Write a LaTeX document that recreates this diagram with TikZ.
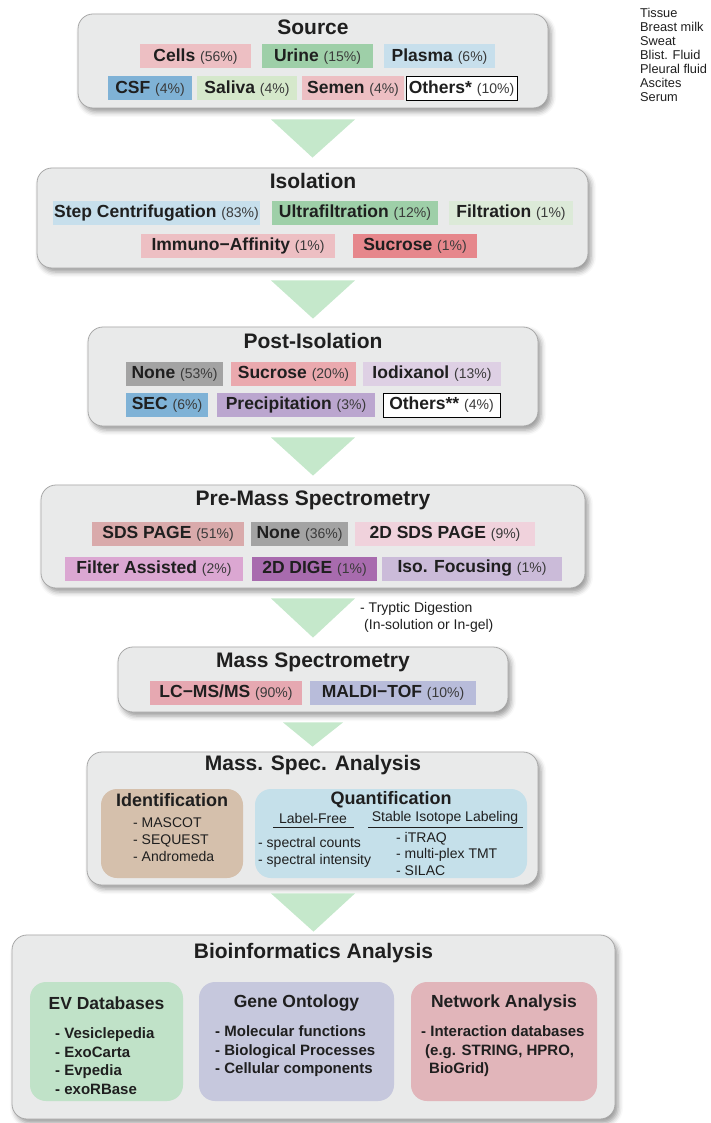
\documentclass[tikz,border=0pt]{standalone}
\usepackage{fontspec}
\setmainfont{Liberation Sans}
\usetikzlibrary{calc,shadows.blur}
\definecolor{boxfill}{HTML}{E9EAEA}
\definecolor{boxborder}{HTML}{A8A8A8}
\definecolor{arrowc}{HTML}{C5E8CB}
\definecolor{txt}{HTML}{1F1F1F}
\definecolor{pct}{HTML}{3A3A3A}
\definecolor{pinkA}{HTML}{EDBFC3}
\definecolor{greenM}{HTML}{9ECFA8}
\definecolor{blueL}{HTML}{C7DFEC}
\definecolor{blueM}{HTML}{7FB2D6}
\definecolor{greenL}{HTML}{D5E8CB}
\definecolor{greenVL}{HTML}{DCEAD8}
\definecolor{redM}{HTML}{E6878C}
\definecolor{grayN}{HTML}{A3A3A3}
\definecolor{pinkB}{HTML}{EAA9AE}
\definecolor{lavL}{HTML}{DED0E4}
\definecolor{purpleM}{HTML}{BBA6CF}
\definecolor{dustyP}{HTML}{D9AAAB}
\definecolor{pinkL}{HTML}{F0D2DC}
\definecolor{orchid}{HTML}{DBA7D2}
\definecolor{purpleD}{HTML}{A86BAE}
\definecolor{lavM}{HTML}{CBBBD9}
\definecolor{pinkC}{HTML}{E6A8B1}
\definecolor{peri}{HTML}{B8BCDA}
\definecolor{tan}{HTML}{D5C0AC}
\definecolor{quantc}{HTML}{C5E0EA}
\definecolor{evc}{HTML}{C0E2C8}
\definecolor{genec}{HTML}{C6C8DD}
\definecolor{netc}{HTML}{E1B5BA}
\newcommand{\ck}[2]{{\bfseries #1} {\fontsize{14}{16}\selectfont\color{pct}(#2\%)}}
\begin{document}
\begin{tikzpicture}[x=1pt,y=-1pt,
  bigbox/.style={draw=boxborder, fill=boxfill, line width=0.8pt, rounded corners=15pt,
     blur shadow={shadow xshift=3pt, shadow yshift=-4pt, shadow blur radius=5pt, shadow opacity=40},
     inner sep=0pt},
  innerbox/.style={rounded corners=16pt, inner sep=0pt},
  chip/.style={inner sep=0pt, minimum height=24pt, text=txt, font=\fontsize{17.5}{20}\selectfont},
  wchip/.style={chip, draw=black, line width=0.6pt, fill=white},
  ttl/.style={text=txt, font=\fontsize{21}{24}\selectfont\bfseries, inner sep=0pt},
  subttl/.style={text=txt, font=\fontsize{18}{21}\selectfont\bfseries, inner sep=0pt},
  plain/.style={text=txt, font=\fontsize{14}{17}\selectfont, inner sep=0pt, align=left},
  bioitem/.style={text=txt, font=\fontsize{15}{18.6}\selectfont\bfseries, inner sep=0pt, align=left},
  biottl/.style={text=txt, font=\fontsize{17.5}{20}\selectfont\bfseries, inner sep=0pt},
  tri/.style={fill=arrowc},
  uline/.style={draw=txt, line width=0.6pt}
]
\useasboundingbox (0,0) rectangle (710,1123);

% ---------- big boxes ----------
\node[bigbox, minimum width=470pt, minimum height=94pt] (src) at (313,61) {};
\node[bigbox, minimum width=551pt, minimum height=100pt] (isol) at (312.5,218) {};
\node[bigbox, minimum width=450pt, minimum height=99pt] (post) at (313,376.5) {};
\node[bigbox, minimum width=544pt, minimum height=103pt] (pre) at (313,536.5) {};
\node[bigbox, minimum width=390pt, minimum height=65pt] (ms) at (313,679.5) {};
\node[bigbox, minimum width=451pt, minimum height=133pt] (msa) at (312.5,818.5) {};
\node[bigbox, minimum width=603pt, minimum height=184pt] (bio) at (313.5,1027) {};

% ---------- arrows (triangles between boxes) ----------
\fill[tri] ($(src.south)+(-42,11)$) -- ($(src.south)+(42,11)$) -- ($(isol.north)+(0,-10)$) -- cycle;
\fill[tri] ($(isol.south)+(-41.5,12)$) -- ($(isol.south)+(42.5,12)$) -- ($(post.north)+(0,-8)$) -- cycle;
\fill[tri] ($(post.south)+(-42,11)$) -- ($(post.south)+(42,11)$) -- ($(pre.north)+(0,-9)$) -- cycle;
\fill[tri] ($(pre.south)+(-42,10)$) -- ($(pre.south)+(42,10)$) -- ($(ms.north)+(0,-9)$) -- cycle;
\fill[tri] ($(ms.south)+(-30,10)$) -- ($(ms.south)+(30,10)$) -- ($(msa.north)+(0,-5)$) -- cycle;
\fill[tri] ($(msa.south)+(-41.5,8)$) -- ($(msa.south)+(42.5,8)$) -- ($(bio.north)+(0,-3)$) -- cycle;

% ---------- Source ----------
\node[ttl] (srct) at (313,27) {Source};
\node[chip, fill=pinkA, minimum width=111pt] (cells) at (195.5,56.5) {\ck{Cells}{56}};
\node[chip, fill=greenM, minimum width=111pt] (urine) at (317.5,56.5) {\ck{Urine}{15}};
\node[chip, fill=blueL, minimum width=111pt] (plasma) at (439.5,56.5) {\ck{Plasma}{6}};
\node[chip, fill=blueM, minimum width=84pt] (csf) at (150,88.5) {\ck{CSF}{4}};
\node[chip, fill=greenL, minimum width=100pt] (saliva) at (247,88.5) {\ck{Saliva}{4}};
\node[chip, fill=pinkA, minimum width=102pt] (semen) at (353,88.5) {\ck{Semen}{4}};
\node[wchip, minimum width=111pt] (oth) at (461.5,88.5) {\ck{Others*}{10}};

% side list
\node[plain, font=\fontsize{12.8}{14}\selectfont, anchor=north west] (list) at (640,8)
  {Tissue\\Breast milk\\Sweat\\Blist. Fluid\\Pleural fluid\\Ascites\\Serum};

% ---------- Isolation ----------
\node[ttl] (isolt) at (313,181) {Isolation};
\node[chip, fill=blueL, minimum width=207pt] (stepc) at (156.5,213) {\ck{Step Centrifugation}{83}};
\node[chip, fill=greenM, minimum width=166pt] (ultra) at (355,213) {\ck{Ultrafiltration}{12}};
\node[chip, fill=greenVL, minimum width=124pt] (filt) at (511,213) {\ck{Filtration}{1}};
\node[chip, fill=pinkA, minimum width=194pt] (immuno) at (238,246) {\ck{Immuno−Affinity}{1}};
\node[chip, fill=redM, minimum width=124pt] (sucr) at (415,246) {\ck{Sucrose}{1}};

% ---------- Post-Isolation ----------
\node[ttl] (postt) at (313,341) {Post-Isolation};
\node[chip, fill=grayN, minimum width=97pt] (none) at (174.5,374) {\ck{None}{53}};
\node[chip, fill=pinkB, minimum width=125pt] (sucr2) at (293.5,374) {\ck{Sucrose}{20}};
\node[chip, fill=lavL, minimum width=138pt] (iodix) at (432,374) {\ck{Iodixanol}{13}};
\node[chip, fill=blueM, minimum width=82pt] (sec) at (167,405) {\ck{SEC}{6}};
\node[chip, fill=purpleM, minimum width=158pt] (precip) at (296,405) {\ck{Precipitation}{3}};
\node[wchip, minimum width=117pt] (oth2) at (441.5,405) {\ck{Others**}{4}};

% ---------- Pre-Mass Spectrometry ----------
\node[ttl] (pret) at (313,500) {Pre-Mass Spectrometry};
\node[chip, fill=dustyP, minimum width=152pt] (sds) at (168,534) {\ck{SDS PAGE}{51}};
\node[chip, fill=grayN, minimum width=97pt] (none2) at (299.5,534) {\ck{None}{36}};
\node[chip, fill=pinkL, minimum width=180pt] (sds2) at (445,534) {\ck{2D SDS PAGE}{9}};
\node[chip, fill=orchid, minimum width=178pt] (filter) at (154,568.5) {\ck{Filter Assisted}{2}};
\node[chip, fill=purpleD, minimum width=125pt] (dige) at (314.5,568.5) {\ck{2D DIGE}{1}};
\node[chip, fill=lavM, minimum width=180pt] (isof) at (472,568.5) {\ck{Iso. Focusing}{1}};

\node[plain, anchor=north west] (tryp) at (360,602)
  {- Tryptic Digestion\\\hspace*{4pt}(In-solution or In-gel)};

% ---------- Mass Spectrometry ----------
\node[ttl] (mst) at (313,662) {Mass Spectrometry};
\node[chip, fill=pinkC, minimum width=152pt] (lcms) at (226,693) {\ck{LC−MS/MS}{90}};
\node[chip, fill=peri, minimum width=166pt] (maldi) at (393,693) {\ck{MALDI−TOF}{10}};

% ---------- Mass Spec Analysis ----------
\node[ttl] (msat) at (313,765) {Mass. Spec. Analysis};
\node[innerbox, fill=tan, minimum width=142pt, minimum height=89pt] (ident) at (172,833.5) {};
\node[innerbox, fill=quantc, minimum width=272pt, minimum height=89pt] (quant) at (391,833.5) {};
\node[subttl] (identt) at (172,800) {Identification};
\node[plain, anchor=west] (identi) at (133,840) {- MASCOT\\- SEQUEST\\- Andromeda};
\node[subttl] (quantt) at (391,800) {Quantification};
\node[plain] (lf) at (313,818) {Label-Free};
\node[plain] (sil) at (445,818) {Stable Isotope Labeling};
\coordinate (lfa) at (273,827);
\coordinate (lfb) at (354,827);
\coordinate (sila) at (368,827);
\coordinate (silb) at (523,827);
\draw[uline] (lfa) -- (lfb);
\draw[uline] (sila) -- (silb);
\node[plain, anchor=west] (lfi) at (258,852.5) {- spectral counts\\- spectral intensity};
\node[plain, anchor=west, font=\fontsize{14}{16.5}\selectfont] (sili) at (396,853.5) {- iTRAQ\\- multi-plex TMT\\- SILAC};

% ---------- Bioinformatics ----------
\node[ttl] (biot) at (313.5,953) {Bioinformatics Analysis};
\node[innerbox, fill=evc, minimum width=153pt, minimum height=119pt] (ev) at (106.5,1041.5) {};
\node[innerbox, fill=genec, minimum width=195pt, minimum height=119pt] (gene) at (296.5,1041.5) {};
\node[innerbox, fill=netc, minimum width=186pt, minimum height=119pt] (net) at (504,1041.5) {};
\node[biottl] (evt) at (106.5,1003) {EV Databases};
\node[biottl] (genet) at (296.5,1003) {Gene Ontology};
\node[biottl] (nett) at (504,1003) {Network Analysis};
\node[bioitem, anchor=west] (evi) at (55,1061) {- Vesiclepedia\\- ExoCarta\\- Evpedia\\- exoRBase};
\node[bioitem, anchor=west] (genei) at (215,1051.5) {- Molecular functions\\- Biological Processes\\- Cellular components};
\node[bioitem, anchor=west] (neti) at (421,1051.5) {- Interaction databases\\\hspace*{4pt}(e.g. STRING, HPRO,\\\hspace*{8pt}BioGrid)};
\end{tikzpicture}
\end{document}
